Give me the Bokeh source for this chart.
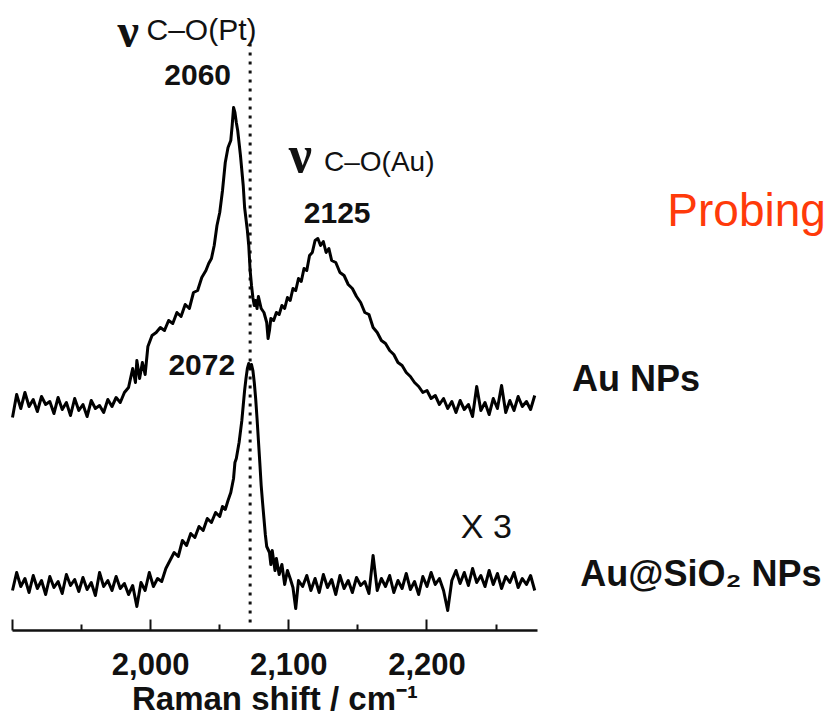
from bokeh.plotting import figure
from bokeh.models import Range1d, FixedTicker, Label
from bokeh.embed import file_html
from bokeh.resources import INLINE

# ---------------- data ----------------
# Au NPs spectrum (displayed, offset trace), Raman shift in cm-1, intensity in a.u.
au_shift = [
    1900, 1903, 1906, 1909, 1912, 1915, 1918, 1921, 1924, 1927,
    1930, 1933, 1936, 1939, 1942, 1945, 1948, 1951, 1954, 1957,
    1960, 1963, 1966, 1969, 1972, 1975, 1978, 1981, 1984, 1987,
    1989, 1990, 1992, 1994, 1996, 1998, 2001, 2004, 2007, 2010,
    2013, 2016, 2019, 2022, 2025, 2028, 2031, 2034, 2037, 2040,
    2042, 2044, 2046, 2048, 2050, 2052, 2054, 2056, 2058, 2059,
    2060, 2061, 2062, 2063, 2065, 2067, 2068, 2070, 2071, 2072,
    2073, 2074, 2075, 2076, 2077, 2078, 2080, 2082, 2084, 2085,
    2086, 2087, 2089, 2091, 2093, 2095, 2097, 2099, 2101, 2103,
    2105, 2107, 2109, 2111, 2113, 2115, 2117, 2119, 2121, 2123,
    2125, 2127, 2129, 2131, 2134, 2137, 2140, 2143, 2146, 2149,
    2152, 2155, 2158, 2161, 2164, 2167, 2170, 2173, 2176, 2179,
    2182, 2185, 2188, 2191, 2194, 2197, 2200, 2203, 2206, 2209,
    2212, 2215, 2218, 2221, 2224, 2227, 2230, 2233, 2236, 2239,
    2242, 2245, 2248, 2251, 2254, 2257, 2260, 2263, 2266, 2269,
    2272, 2275, 2278,
]
au_intensity = [
    213, 236, 222, 238, 224, 231, 219, 234, 226, 229,
    217, 233, 221, 228, 215, 232, 220, 226, 214, 230,
    222, 225, 218, 231, 224, 233, 228, 238, 243, 262,
    248, 270, 252, 268, 256, 284, 295, 298, 303, 300,
    310, 307, 318, 314, 326, 322, 338, 340, 353, 360,
    367, 372, 385, 405, 418, 440, 468, 483, 490, 505,
    523, 518, 508, 500, 475, 445, 423, 400, 385, 360,
    345, 333, 325, 330, 322, 334, 322, 318, 308, 292,
    300, 312, 310, 318, 316, 325, 322, 333, 330, 342,
    340, 352, 349, 362, 360, 375, 378, 390, 392, 385,
    389, 378, 382, 370, 368, 358, 355, 346, 342, 334,
    328, 318, 316, 303, 298, 290, 287, 280, 276, 268,
    265, 258, 254, 248, 244, 238, 240, 232, 235, 226,
    232, 222, 229, 218, 230, 221, 226, 214, 244, 220,
    228, 216, 232, 222, 245, 218, 230, 220, 234, 224,
    229, 221, 235,
]

# Au@SiO2 NPs spectrum (x 3)
sio2_shift = [
    1900, 1903, 1906, 1909, 1912, 1915, 1918, 1921, 1924, 1927,
    1930, 1933, 1936, 1939, 1942, 1945, 1948, 1951, 1954, 1957,
    1960, 1963, 1966, 1969, 1972, 1975, 1978, 1981, 1984, 1987,
    1990, 1993, 1996, 1999, 2002, 2005, 2008, 2011, 2014, 2017,
    2020, 2023, 2026, 2029, 2032, 2035, 2038, 2041, 2044, 2047,
    2050, 2052, 2054, 2056, 2058, 2060, 2061, 2062, 2064, 2066,
    2067, 2068, 2069, 2070, 2071, 2072, 2073, 2074, 2075, 2076,
    2077, 2078, 2079, 2080, 2081, 2082, 2083, 2084, 2086, 2087,
    2088, 2090, 2091, 2093, 2095, 2097, 2099, 2101, 2103, 2105,
    2107, 2110, 2113, 2116, 2119, 2122, 2125, 2128, 2131, 2134,
    2137, 2140, 2143, 2146, 2149, 2152, 2155, 2158, 2161, 2164,
    2167, 2170, 2173, 2176, 2179, 2182, 2185, 2188, 2191, 2194,
    2197, 2200, 2203, 2206, 2209, 2212, 2215, 2218, 2221, 2224,
    2227, 2230, 2233, 2236, 2239, 2242, 2245, 2248, 2251, 2254,
    2257, 2260, 2263, 2266, 2269, 2272, 2275, 2278,
]
sio2_intensity = [
    40, 58, 44, 52, 38, 55, 42, 50, 36, 54,
    43, 49, 37, 56, 45, 51, 39, 53, 41, 48,
    35, 58, 44, 50, 40, 54, 42, 47, 36, 45,
    24, 48, 40, 58, 44, 52, 49, 62, 70, 78,
    74, 90, 85, 97, 93, 104, 100, 112, 108, 118,
    114, 124, 121, 130, 138, 152, 168, 172, 188, 210,
    225, 240, 252, 262, 267, 262, 266, 260, 248, 232,
    212, 190, 168, 145, 128, 112, 96, 84, 78, 66,
    80, 60, 72, 56, 66, 46, 60, 52, 43, 22,
    50, 44, 55, 40, 52, 38, 56, 43, 51, 36,
    55, 42, 50, 38, 53, 45, 49, 37, 75, 40,
    52, 44, 55, 38, 50, 42, 57, 41, 49, 36,
    54, 44, 58, 46, 52, 40, 20, 50, 60, 47,
    58, 45, 62, 48, 55, 44, 60, 46, 57, 42,
    54, 48, 58, 43, 52, 46, 55, 40,
]

peak_pt = 2060      # C-O on Pt (Au NPs)
peak_au = 2125      # C-O on Au
peak_sio2 = 2072    # C-O on Pt (Au@SiO2 NPs)

axis_start, axis_end = 1900, 2280
major_ticks = [1900, 2000, 2100, 2200]
minor_ticks = [1950, 2050, 2150, 2250]
tick_labels = {1900: "", 2000: "2,000", 2100: "2,100", 2200: "2,200"}

# ---------------- figure ----------------
SANS = "Liberation Sans"
SERIF = "Liberation Serif"
PX_PER_UNIT = 525 / 380.0   # horizontal scale of the drawn axis

p = figure(width=836, height=723, output_backend="svg", toolbar_location=None,
           x_range=Range1d(axis_start - 12 / PX_PER_UNIT, axis_start + 824 / PX_PER_UNIT),
           y_range=Range1d(-93, 630),
           y_axis_location=None,
           min_border_left=0, min_border_right=0,
           min_border_top=0, min_border_bottom=0)
p.outline_line_color = None
p.grid.visible = False
p.background_fill_color = "white"
p.border_fill_color = "white"

ax = p.xaxis[0]
ax.fixed_location = 0
ax.bounds = (axis_start, axis_end)
ax.ticker = FixedTicker(ticks=major_ticks, minor_ticks=minor_ticks)
ax.major_label_overrides = tick_labels
ax.axis_line_width = 2.5
ax.axis_line_color = "#111111"
ax.major_tick_in = 11
ax.major_tick_out = 0
ax.minor_tick_in = 6
ax.minor_tick_out = 0
ax.major_tick_line_width = 2
ax.minor_tick_line_width = 2
ax.major_tick_line_color = "#111111"
ax.minor_tick_line_color = "#111111"
ax.major_label_text_font = SANS
ax.major_label_text_font_style = "bold"
ax.major_label_text_font_size = "31px"
ax.major_label_text_color = "#111111"
ax.major_label_standoff = 22
ax.axis_label = "Raman shift / cm\u207b\u00b9"
ax.axis_label_text_font = SANS
ax.axis_label_text_font_style = "bold"
ax.axis_label_text_font_size = "33px"
ax.axis_label_text_color = "#111111"
ax.axis_label_standoff = 2

# dotted reference line at the Au@SiO2 peak
p.segment(x0=[peak_sio2], y0=[8], x1=[peak_sio2], y1=[590],
          line_color="#111111", line_width=3, line_dash="3 6")

# spectra
p.line(au_shift, au_intensity, line_color="#000000", line_width=3, line_join="round")
p.line(sio2_shift, sio2_intensity, line_color="#000000", line_width=3, line_join="round")

def lab(x, y, text, size, font=SANS, style="bold", align="left", color="#111111"):
    p.add_layout(Label(x=x, y=y, text=text, text_font=font, text_font_size=size,
                       text_font_style=style, text_align=align,
                       text_baseline="alphabetic", text_color=color))

# band labels
lab(1976, 600, "\u03bd", "48px", font=SERIF)
lab(1997, 601, "C\u2013O(Pt)", "30px", style="normal")
lab(peak_pt - 26, 556, str(peak_pt), "30px", align="center")

lab(2100, 476, "\u03bd", "52px", font=SERIF)
lab(2125.5, 469, "C\u2013O(Au)", "28px", style="normal")
lab(peak_au + 10, 418, str(peak_au), "30px", align="center")

lab(peak_sio2 - 35, 266, str(peak_sio2), "30px", align="center")
lab(2243, 105, "X 3", "34px", style="normal", align="center")

# sample names (right of the axis)
lab(2305, 252, "Au NPs", "36px")
lab(2311, 57, "Au@SiO\u2082 NPs", "36px")
lab(2374, 421, "Probing", "46px", style="normal", color="#ff3a0a")

open("out.html", "w").write(file_html(p, INLINE))
